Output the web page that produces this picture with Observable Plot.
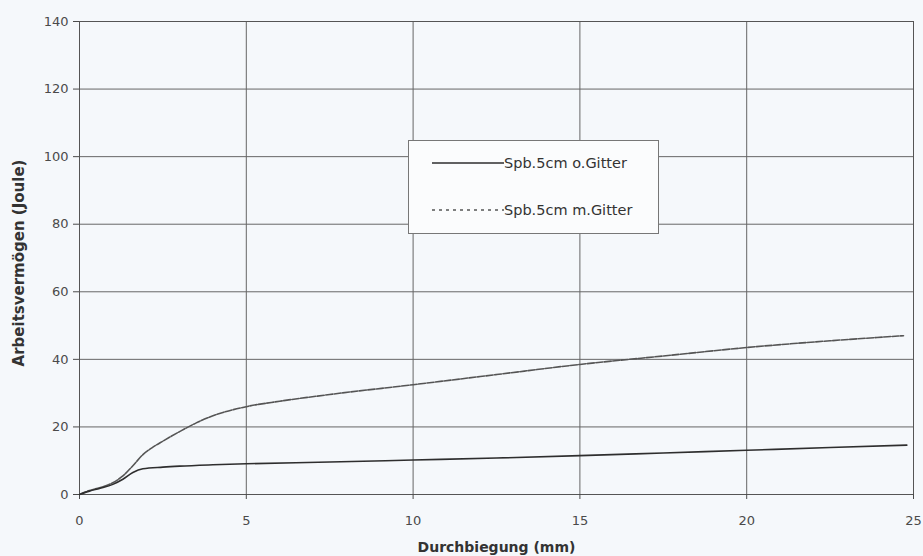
<!DOCTYPE html>
<html>
<head>
<meta charset="utf-8">
<script src="https://cdn.jsdelivr.net/npm/d3@7"></script>
<script src="https://cdn.jsdelivr.net/npm/@observablehq/plot@0.6"></script>
<style>
  html, body { margin: 0; padding: 0; background: #f5f8fb; }
  #wrap { position: relative; width: 923px; height: 556px; font-family: "DejaVu Sans", sans-serif; }
  #legend { position: absolute; left: 408px; top: 140px; width: 251px; height: 94px; background: #fbfcfd; border: 1px solid #777; box-sizing: border-box; font-size: 14.5px; color: #333; }
  #legend .row { position: absolute; left: 23px; display: flex; align-items: center; height: 16px; }
  #legend svg { display: block; }
</style>
</head>
<body>
<div id="wrap"></div>
<script>
const seriesNames = ["Spb.5cm o.Gitter", "Spb.5cm m.Gitter"];
const xO = [0, 0.3, 0.6, 1.0, 1.3, 1.6, 1.9, 2.5, 3, 4, 5, 7.5, 10, 12.5, 15, 17.5, 20, 22.5, 24.8];
const yO = [0, 1.0, 1.8, 3.0, 4.5, 6.5, 7.6, 8.1, 8.4, 8.8, 9.1, 9.6, 10.2, 10.8, 11.5, 12.3, 13.1, 13.9, 14.6];
const xM = [0, 0.3, 0.6, 1.0, 1.3, 1.6, 1.9, 2.2, 2.5, 3, 3.5, 4, 5, 6, 7.5, 10, 12.5, 15, 17.5, 20, 22.5, 24.7];
const yM = [0, 1.2, 2.0, 3.5, 5.5, 8.5, 11.8, 14.0, 15.8, 18.6, 21.2, 23.3, 26, 27.6, 29.6, 32.5, 35.5, 38.5, 41, 43.5, 45.5, 47];
const xTicks = [0, 5, 10, 15, 20, 25];
const yTicks = [0, 20, 40, 60, 80, 100, 120, 140];
const xTitle = "Durchbiegung (mm)";
const yTitle = "Arbeitsvermögen (Joule)";

const dataO = xO.map((x, i) => ({x, y: yO[i]}));
const dataM = xM.map((x, i) => ({x, y: yM[i]}));

const chart = Plot.plot({
  width: 923,
  height: 556,
  marginLeft: 79,
  marginRight: 10,
  marginTop: 21,
  marginBottom: 62,
  style: {background: "transparent", fontFamily: "DejaVu Sans, sans-serif", fontSize: "13px", color: "#4a4a4a"},
  x: {domain: [0, 25]},
  y: {domain: [0, 140]},
  marks: [
    Plot.ruleX(xTicks, {stroke: "#666", strokeWidth: 1}),
    Plot.ruleY(yTicks, {stroke: "#666", strokeWidth: 1}),
    Plot.frame({stroke: "#555"}),
    Plot.axisX({ticks: xTicks, tickSize: 5, tickPadding: 16, label: null}),
    Plot.axisY({ticks: yTicks, tickSize: 6, tickPadding: 5, label: null}),
    Plot.text([xTitle], {frameAnchor: "bottom", dy: 53, lineAnchor: "middle", textAnchor: "middle", fontWeight: "bold", fontSize: 14, fill: "#333"}),
    Plot.text([yTitle], {frameAnchor: "left", dx: -60, dy: 5, rotate: -90, lineAnchor: "middle", textAnchor: "middle", fontWeight: "bold", fontSize: 15, fill: "#333"}),
    Plot.line(dataM, {x: "x", y: "y", stroke: "#555", strokeWidth: 1.6, strokeDasharray: "7,1.5", curve: "monotone-x"}),
    Plot.line(dataO, {x: "x", y: "y", stroke: "#2e2e2e", strokeWidth: 1.6, curve: "monotone-x"})
  ]
});
document.getElementById("wrap").appendChild(chart);

const legend = document.createElement("div");
legend.id = "legend";
legend.innerHTML = `
  <div class="row" style="top:14px"><svg width="72" height="6"><line x1="0" y1="3" x2="72" y2="3" stroke="#2e2e2e" stroke-width="1.6"/></svg><span>${seriesNames[0]}</span></div>
  <div class="row" style="top:61px"><svg width="72" height="6"><line x1="0" y1="3" x2="72" y2="3" stroke="#555" stroke-width="1.6" stroke-dasharray="3,4"/></svg><span>${seriesNames[1]}</span></div>`;
document.getElementById("wrap").appendChild(legend);
</script>
</body>
</html>
